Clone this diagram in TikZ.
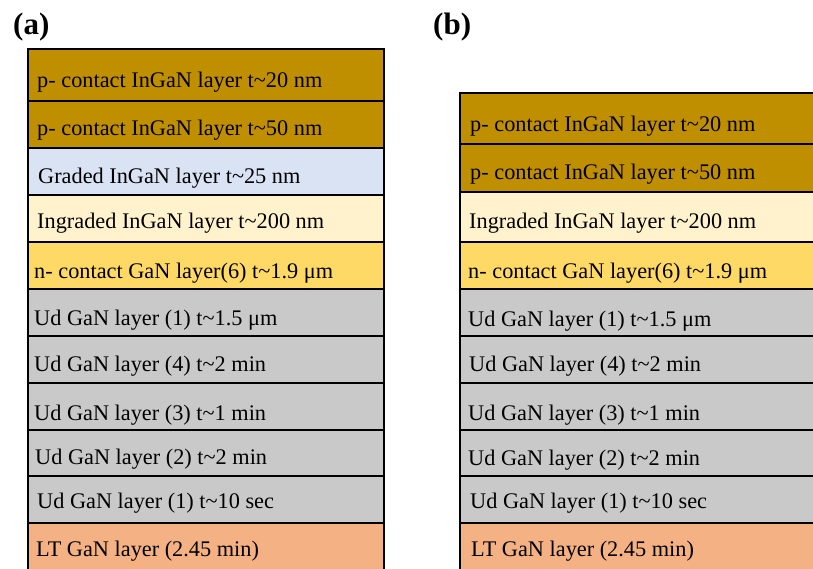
\documentclass[tikz,border=0pt]{standalone}
\usepackage{fontspec}
\setmainfont{Liberation Serif}
\definecolor{pgold}{HTML}{BF8F00}
\definecolor{gradblue}{HTML}{DAE3F3}
\definecolor{ingcream}{HTML}{FFF2CC}
\definecolor{ncont}{HTML}{FFD966}
\definecolor{udgray}{HTML}{C9C9C9}
\definecolor{ltorange}{HTML}{F4B183}
\tikzset{
  layerbox/.style={draw=black, line width=2.6pt},
  lbl/.style={anchor=base west, inner sep=0pt, font=\fontsize{22.3}{26}\selectfont},
  panel/.style={anchor=base west, inner sep=0pt, font=\fontsize{31}{36}\selectfont\bfseries}
}
\begin{document}
\begin{tikzpicture}[x=1pt,y=-1pt]
\useasboundingbox (0,0) rectangle (813,569);
\clip (0,0) rectangle (813,569);
% panel labels
\node[panel] (pa) at (13,35) {(a)};
\node[panel] (pb) at (433,35) {(b)};
% ---------- stack (a) ----------
\draw[layerbox, fill=ltorange] (28,523) rectangle (384,580);
\draw[layerbox, fill=udgray] (28,476) rectangle (384,523);
\draw[layerbox, fill=udgray] (28,430) rectangle (384,476);
\draw[layerbox, fill=udgray] (28,383) rectangle (384,430);
\draw[layerbox, fill=udgray] (28,336) rectangle (384,383);
\draw[layerbox, fill=udgray] (28,289) rectangle (384,336);
\draw[layerbox, fill=ncont] (28,242) rectangle (384,289);
\draw[layerbox, fill=ingcream] (28,195) rectangle (384,242);
\draw[layerbox, fill=gradblue] (28,148) rectangle (384,195);
\draw[layerbox, fill=pgold] (28,101) rectangle (384,148);
\draw[layerbox, fill=pgold] (28,49) rectangle (384,101);
\node[lbl] (a1) at (37,88) {p- contact InGaN layer t\textasciitilde20 nm};
\node[lbl] (a2) at (37,136) {p- contact InGaN layer t\textasciitilde50 nm};
\node[lbl] (a3) at (38,184) {Graded InGaN layer t\textasciitilde25 nm};
\node[lbl] (a4) at (37,229) {Ingraded InGaN layer t\textasciitilde200 nm};
\node[lbl] (a5) at (34,278) {n- contact GaN layer(6) t\textasciitilde1.9 μm};
\node[lbl] (a6) at (34,325) {Ud GaN layer (1) t\textasciitilde1.5 μm};
\node[lbl] (a7) at (34,371) {Ud GaN layer (4) t\textasciitilde2 min};
\node[lbl] (a8) at (34,420) {Ud GaN layer (3) t\textasciitilde1 min};
\node[lbl] (a9) at (35,464) {Ud GaN layer (2) t\textasciitilde2 min};
\node[lbl] (a10) at (37,508) {Ud GaN layer (1) t\textasciitilde10 sec};
\node[lbl] (a11) at (36,556) {LT GaN layer (2.45 min)};
% ---------- stack (b) ----------
\draw[layerbox, fill=ltorange] (460,523) rectangle (830,580);
\draw[layerbox, fill=udgray] (460,476) rectangle (830,523);
\draw[layerbox, fill=udgray] (460,430) rectangle (830,476);
\draw[layerbox, fill=udgray] (460,383) rectangle (830,430);
\draw[layerbox, fill=udgray] (460,336) rectangle (830,383);
\draw[layerbox, fill=udgray] (460,289) rectangle (830,336);
\draw[layerbox, fill=ncont] (460,242) rectangle (830,289);
\draw[layerbox, fill=ingcream] (460,192) rectangle (830,242);
\draw[layerbox, fill=pgold] (460,144) rectangle (830,192);
\draw[layerbox, fill=pgold] (460,93) rectangle (830,144);
\node[lbl] (b1) at (470,132) {p- contact InGaN layer t\textasciitilde20 nm};
\node[lbl] (b2) at (470,180) {p- contact InGaN layer t\textasciitilde50 nm};
\node[lbl] (b3) at (469,229) {Ingraded InGaN layer t\textasciitilde200 nm};
\node[lbl] (b4) at (468,278) {n- contact GaN layer(6) t\textasciitilde1.9 μm};
\node[lbl] (b5) at (468,326) {Ud GaN layer (1) t\textasciitilde1.5 μm};
\node[lbl] (b6) at (469,371) {Ud GaN layer (4) t\textasciitilde2 min};
\node[lbl] (b7) at (468,420) {Ud GaN layer (3) t\textasciitilde1 min};
\node[lbl] (b8) at (468,465) {Ud GaN layer (2) t\textasciitilde2 min};
\node[lbl] (b9) at (470,508) {Ud GaN layer (1) t\textasciitilde10 sec};
\node[lbl] (b10) at (471,556) {LT GaN layer (2.45 min)};
\end{tikzpicture}
\end{document}
